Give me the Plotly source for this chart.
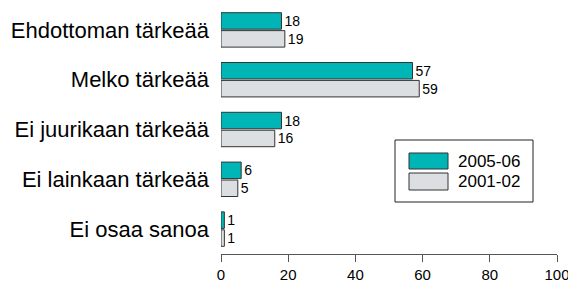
import plotly.graph_objects as go

categories = ["Ehdottoman tärkeää", "Melko tärkeää", "Ei juurikaan tärkeää",
              "Ei lainkaan tärkeää", "Ei osaa sanoa"]
series_names = ["2005-06", "2001-02"]
values_2005_06 = [18, 57, 18, 6, 1]
values_2001_02 = [19, 59, 16, 5, 1]
x_ticks = [0, 20, 40, 60, 80, 100]

colors = ["#00B5B5", "#DCDFE2"]
font_family = "Liberation Sans, Arial, sans-serif"

fig = go.Figure()
for name, vals, col in zip(series_names, [values_2005_06, values_2001_02], colors):
    fig.add_trace(go.Bar(
        name=name, y=categories, x=vals, orientation="h",
        marker=dict(color=col, line=dict(color="#333333", width=1)),
        text=[str(v) for v in vals], textposition="outside",
        textfont=dict(size=14, color="black", family=font_family),
        cliponaxis=False, hoverinfo="skip",
    ))

fig.update_layout(
    width=568, height=282,
    margin=dict(l=221, r=11, t=5, b=28, autoexpand=False),
    paper_bgcolor="white", plot_bgcolor="white",
    barmode="group", bargap=0.28, bargroupgap=0.08,
    showlegend=False,
    font=dict(family=font_family, color="black"),
)
fig.update_xaxes(
    range=[0, 100], tickvals=x_ticks, ticktext=[str(t) for t in x_ticks],
    showgrid=False, zeroline=False, showline=True, linecolor="#555555", linewidth=1,
    ticks="outside", ticklen=7, tickcolor="#555555",
    tickfont=dict(size=15, color="black"), automargin=False,
    ticklabeloverflow="allow",
)
fig.update_yaxes(
    autorange="reversed", showgrid=False, showline=False, zeroline=False,
    ticks="", ticklabelstandoff=11, automargin=False,
    tickfont=dict(size=22, color="black"),
)

# Legend drawn as a box with swatches
fig.add_shape(type="rect", xref="paper", yref="paper",
              x0=(395-221)/336, x1=(533-221)/336,
              y0=(282-28-202)/249, y1=(282-28-140)/249,
              line=dict(color="#222222", width=1), fillcolor="white")
legend_rows = [(153, 169), (173, 190)]
for (top, bot), name, col in zip(legend_rows, series_names, colors):
    fig.add_shape(type="rect", xref="paper", yref="paper",
                  x0=(409-221)/336, x1=(448-221)/336,
                  y0=(254-bot)/249, y1=(254-top)/249,
                  line=dict(color="#333333", width=1), fillcolor=col)
    fig.add_annotation(xref="paper", yref="paper",
                       x=(456-221)/336, y=(254-(top+bot)/2)/249,
                       xanchor="left", yanchor="middle", showarrow=False,
                       text=name, font=dict(size=17, color="black"))

fig.write_html("out.html", config={"displayModeBar": False},
               post_script="document.body.style.margin='0';")
